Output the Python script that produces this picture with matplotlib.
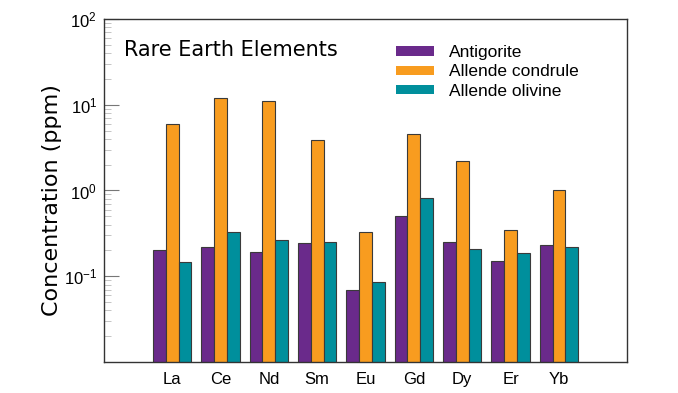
import matplotlib
matplotlib.use("Agg")
import matplotlib.pyplot as plt
import numpy as np

plt.rcParams["mathtext.default"] = "regular"

elements = ["La", "Ce", "Nd", "Sm", "Eu", "Gd", "Dy", "Er", "Yb"]
antigorite = [0.202, 0.221, 0.192, 0.242, 0.070, 0.508, 0.253, 0.151, 0.229]
allende_condrule = [5.96, 12.1, 11.0, 3.85, 0.328, 4.5, 2.23, 0.343, 1.00]
allende_olivine = [0.145, 0.325, 0.267, 0.251, 0.0857, 0.824, 0.208, 0.185, 0.219]
major_ticks = [0.1, 1, 10, 100]

series = [
    ("Antigorite", antigorite, "#6a2a8b"),
    ("Allende condrule", allende_condrule, "#f89c1f"),
    ("Allende olivine", allende_olivine, "#008f9c"),
]

fig = plt.figure(figsize=(6.78, 3.93), dpi=100)
ax = fig.add_axes([0.1534, 0.0789, 0.7714, 0.8728])

x = np.arange(len(elements))
width = 0.263
for i, (name, vals, color) in enumerate(series):
    ax.bar(x + (i - 1) * width, vals, width, color=color, edgecolor="#3a3a3a",
           linewidth=0.8, label=name)

ax.set_yscale("log")
ax.set_ylim(0.01, 100)
ax.set_xlim(-1.41, 9.41)
ax.set_yticks(major_ticks)

ax.set_xticks(x)
ax.set_xticklabels(elements, fontsize=12, family="Liberation Sans")
ax.tick_params(axis="x", length=0, pad=7)
ax.tick_params(axis="y", which="major", direction="in", length=11, color="#777777",
               labelsize=12, labelfontfamily="Liberation Sans", pad=5)
ax.tick_params(axis="y", which="minor", direction="in", length=5, color="#bbbbbb")
ax.tick_params(axis="y", which="both", right=False)

for side in ax.spines.values():
    side.set_color("#333333")
    side.set_linewidth(1.0)

ax.set_ylabel("Concentration (ppm)", fontsize=16, family="DejaVu Sans")
ax.yaxis.set_label_coords(-0.08, 0.472)
ax.text(0.038, 0.91, "Rare Earth Elements", transform=ax.transAxes, fontsize=15,
        family="DejaVu Sans", va="center", ha="left")

leg = ax.legend(loc="upper left", bbox_to_anchor=(0.558, 0.924), frameon=False,
                prop={"family": "Liberation Sans", "size": 12.5},
                borderpad=0, borderaxespad=0,
                handlelength=2.18, handleheight=0.45, labelspacing=0.25,
                handletextpad=0.86)
for h in leg.legend_handles:
    h.set_linewidth(0)

fig.savefig("out.png", dpi=100)
